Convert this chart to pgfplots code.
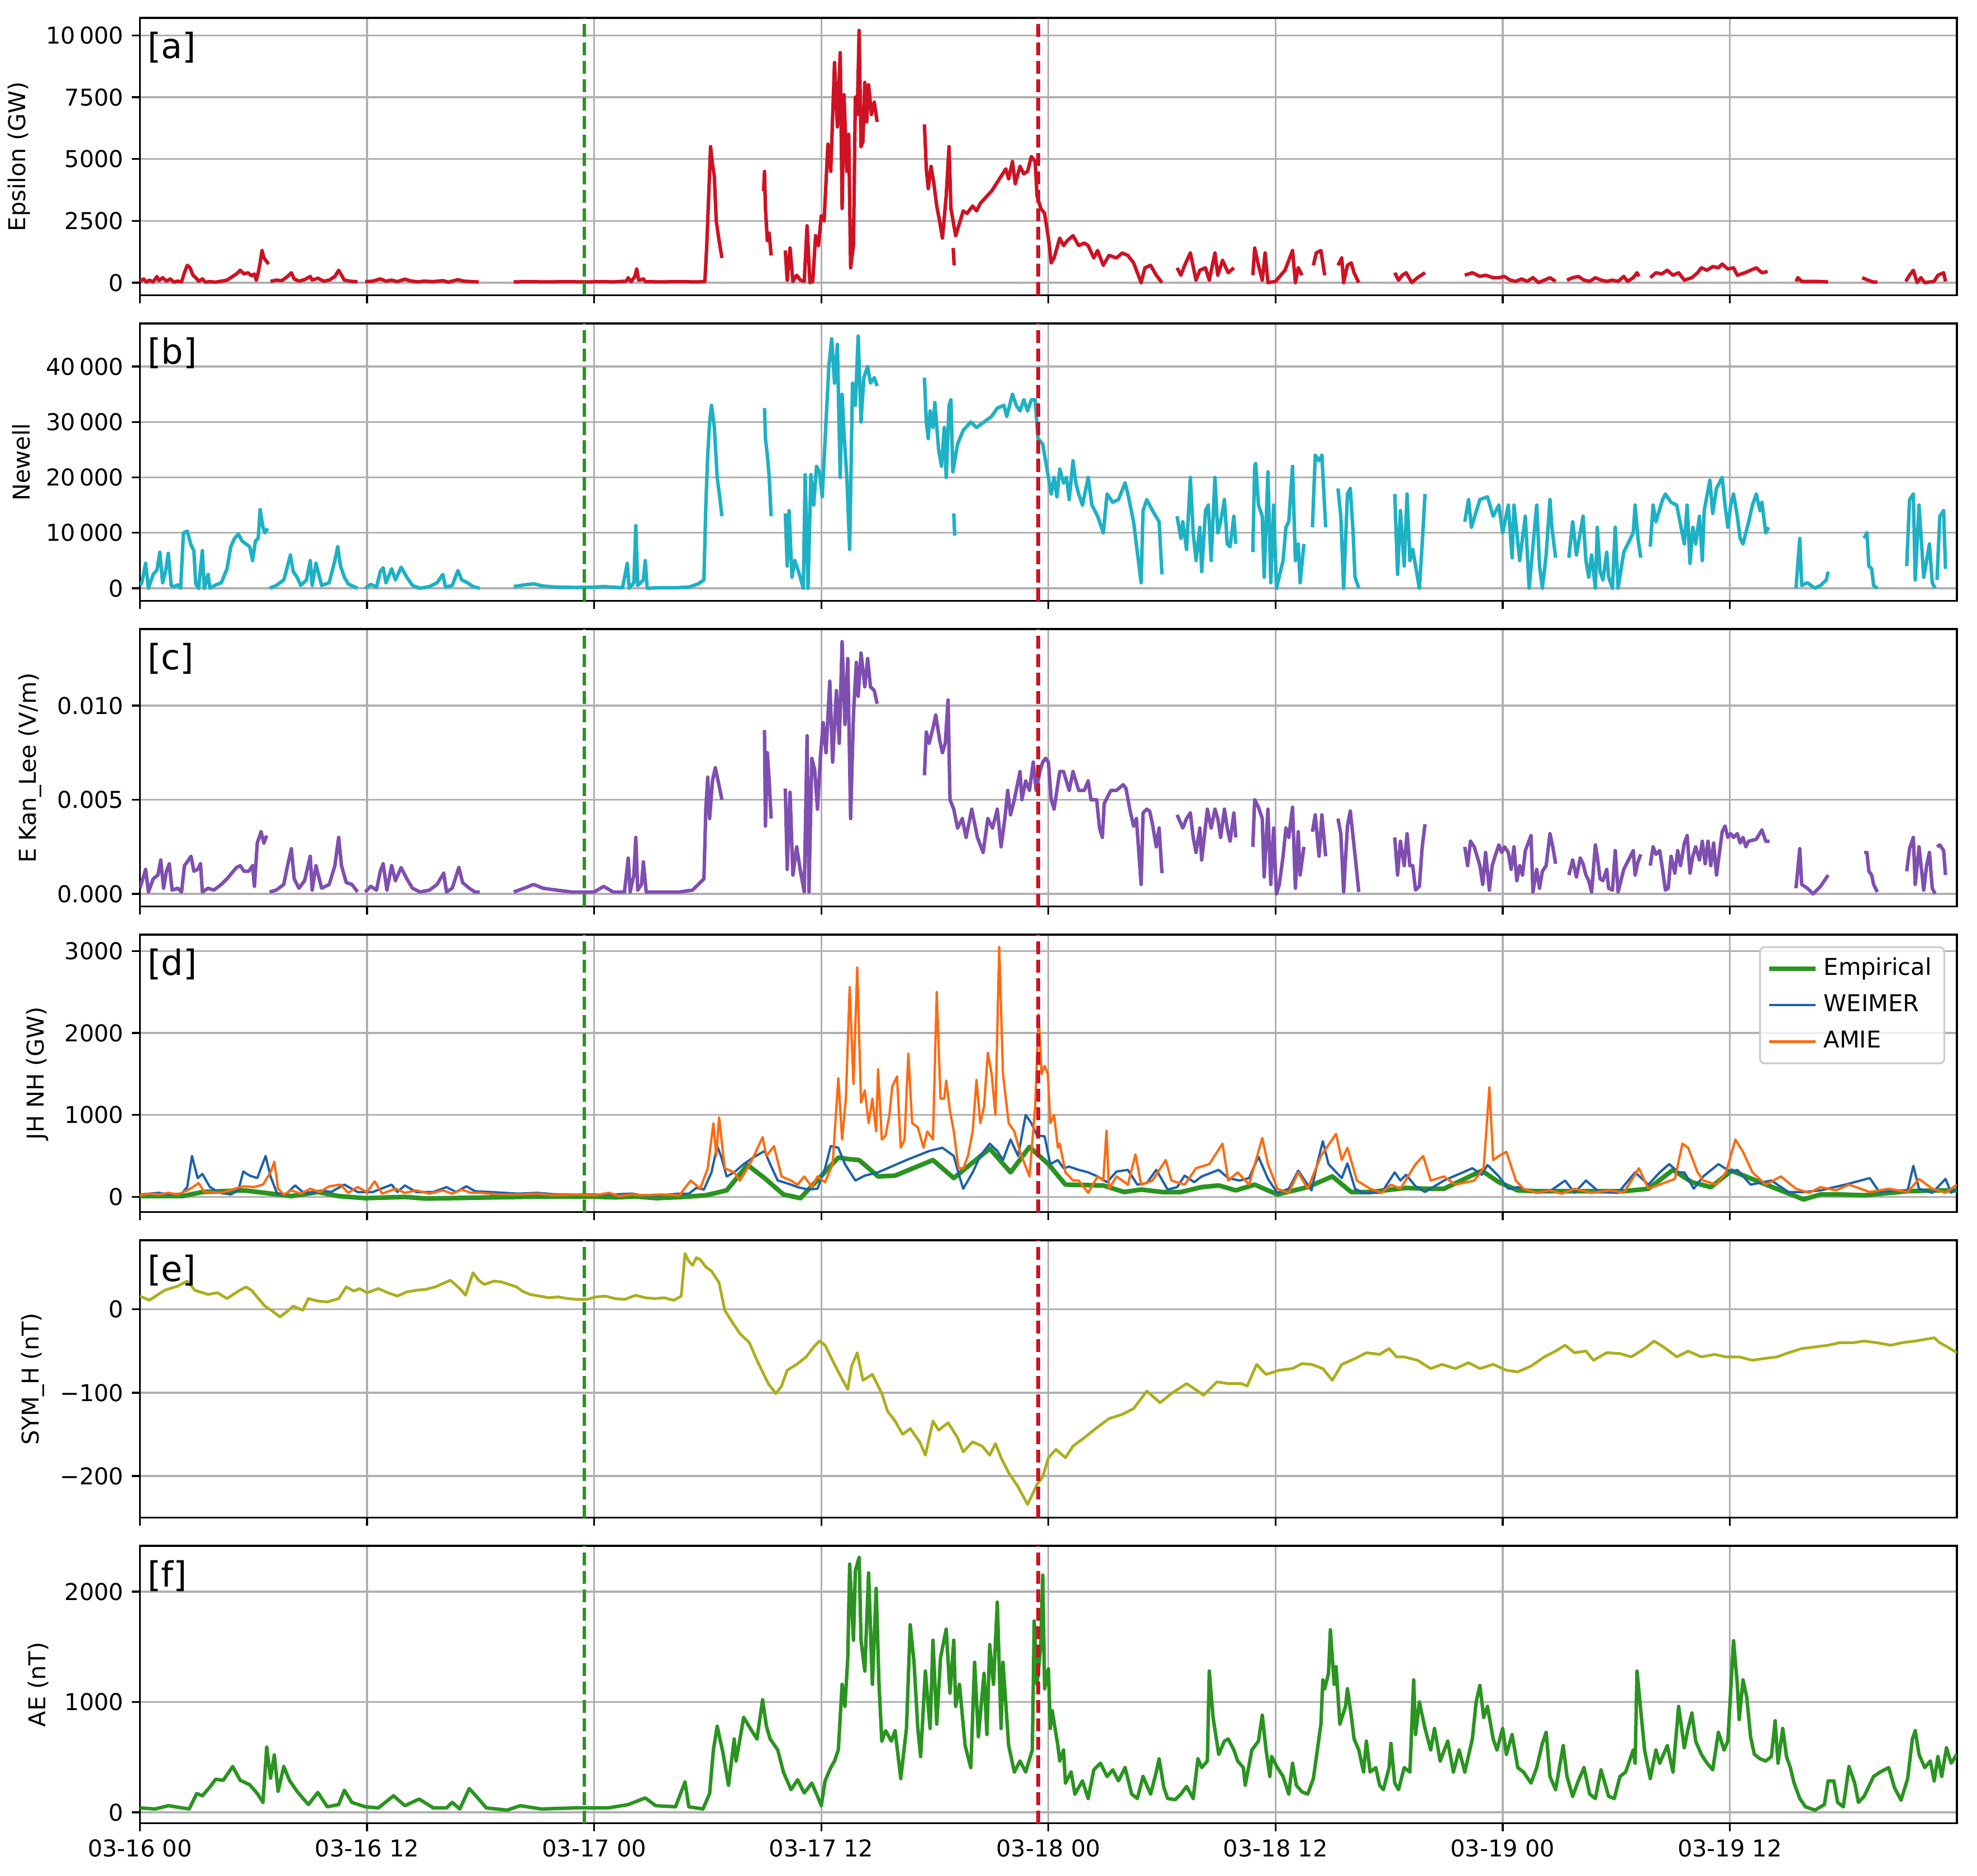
\documentclass[border=0pt]{standalone}
\usepackage{pgfplots}
\pgfplotsset{compat=1.18}
\usepackage{fontspec}
\setmainfont{DejaVu Sans}
\definecolor{cEps}{RGB}{206,18,36}
\definecolor{cNew}{RGB}{30,177,196}
\definecolor{cKan}{RGB}{127,79,176}
\definecolor{cEmp}{RGB}{42,148,32}
\definecolor{cWei}{RGB}{29,98,168}
\definecolor{cAmi}{RGB}{255,106,16}
\definecolor{cSym}{RGB}{172,174,28}
\definecolor{gridc}{RGB}{176,176,176}
\definecolor{legc}{RGB}{204,204,204}
\pgfplotsset{
  panel/.style={
    scale only axis, width=27.54cm, height=4.205cm, anchor=south west,
    xmin=0, xmax=96, xtick={0,12,24,36,48,60,72,84}, xticklabels={},
    scaled y ticks=false, scaled x ticks=false,
    grid=major, major grid style={draw=gridc, line width=0.8pt},
    axis line style={line width=0.8pt},
    every tick/.style={black, line width=0.8pt},
    tick align=outside, major tick length=3.5pt, tick pos=left,
    unbounded coords=jump,
    font=\fontsize{10}{12}\selectfont,
    ticklabel style={font=\fontsize{10}{12}\selectfont},
    label style={font=\fontsize{10}{12}\selectfont},
  },
}
\tikzset{
  panellabel/.style={anchor=north west, inner sep=0pt, font=\fontsize{15}{18}\selectfont},
  dline/.style={line width=1.5pt, dash pattern=on 5.55pt off 2.4pt},
}
\newcommand{\vlines}{%
  \draw[cEmp, dline] ({axis cs:23.47,0}|-{rel axis cs:0,0}) -- ({axis cs:23.47,0}|-{rel axis cs:0,1});
  \draw[cEps, dline] ({axis cs:47.46,0}|-{rel axis cs:0,0}) -- ({axis cs:47.46,0}|-{rel axis cs:0,1});}
\begin{document}
\begin{tikzpicture}
\useasboundingbox (0,0) rectangle (29.966cm,28.432cm);
% ---------------- (a) Epsilon
\begin{axis}[panel, at={(2.121cm,23.957cm)}, ymin=-510, ymax=10710,
  ytick={0,2500,5000,7500,10000}, yticklabels={0,2500,5000,7500,10\,000}, ylabel={Epsilon (GW)}]
\addplot[cEps, line width=1.5pt, line join=round] coordinates {
(0,50) (0.2,150) (0.35,20) (0.5,100) (0.7,30) (0.9,250) (1.0,80) (1.2,200) (1.4,60) (1.6,150) (1.8,20) (2.0,60) (2.2,30) (2.35,400) (2.5,700) (2.65,600) (2.8,300) (2.95,200) (3.1,60) (3.3,150) (3.45,20) (3.7,40) (4.0,20) (4.3,60) (4.6,100) (4.9,250) (5.1,350) (5.3,500) (5.5,350) (5.7,400) (5.9,280) (6.05,350) (6.15,100) (6.25,400) (6.35,800) (6.45,1300) (6.55,1000) (6.7,850) (6.8,750) (6.85,nan)
(6.9,50) (7.2,100) (7.5,80) (7.8,250) (8.0,400) (8.15,150) (8.4,60) (8.7,120) (9.0,250) (9.1,100) (9.4,180) (9.7,60) (10.0,100) (10.3,250) (10.5,500) (10.65,300) (10.8,100) (11.1,60) (11.5,30) (11.6,nan)
(11.9,40) (12.3,60) (12.7,150) (13.0,60) (13.3,100) (13.6,40) (14.0,140) (14.3,70) (14.7,30) (15.0,60) (15.5,40) (16.0,80) (16.3,20) (16.8,120) (17.1,60) (17.5,40) (17.9,30) (18.0,nan)
(19.75,30) (20.5,40) (21.5,30) (22.5,40) (23.5,30) (24.5,40) (25.0,30) (25.7,60) (25.8,200) (25.95,30) (26.15,250) (26.25,550) (26.35,100) (26.6,150) (26.7,40) (27.5,30) (28.5,40) (29.5,30) (29.85,50) (29.95,1500) (30.05,3500) (30.15,5500) (30.25,4800) (30.35,4300) (30.45,2500) (30.6,1700) (30.75,1000) (30.8,nan)
(32.95,3700) (33.0,4500) (33.05,3000) (33.15,1700) (33.25,2000) (33.35,1100) (33.4,nan)
(34.1,1300) (34.2,100) (34.35,1400) (34.5,50) (34.7,300) (34.9,100) (35.1,50) (35.25,2300) (35.4,0) (35.55,50) (35.7,1900) (35.85,1500) (36.0,2700) (36.15,2500) (36.35,5600) (36.5,4500) (36.7,8900) (36.85,6300) (37.0,9300) (37.1,3000) (37.2,7600) (37.35,4500) (37.45,6000) (37.55,600) (37.7,1500) (37.8,7500) (37.9,6800) (38.0,10200) (38.1,5500) (38.2,5700) (38.3,8100) (38.4,6500) (38.5,8000) (38.65,6800) (38.8,7300) (38.95,6500) (39.0,nan)
(41.45,6400) (41.55,4600) (41.65,3800) (41.8,4700) (41.95,4000) (42.1,3100) (42.25,2500) (42.4,1800) (42.6,3500) (42.75,5500) (42.85,3000) (43.1,1900) (43.3,2400) (43.5,2900) (43.7,2800) (44.0,3100) (44.2,2900) (44.4,3200) (44.75,3500) (45.0,3700) (45.25,4000) (45.5,4300) (45.75,4600) (45.9,4200) (46.1,4900) (46.25,4000) (46.5,4700) (46.7,4400) (46.9,4500) (47.1,5100) (47.3,4900) (47.4,3500) (47.6,3000) (47.8,2800) (48.0,1800) (48.15,800) (48.3,1000) (48.6,1800) (48.8,1500) (49.0,1700) (49.3,1900) (49.6,1500) (49.9,1600) (50.1,1500) (50.4,1000) (50.6,1300) (50.9,700) (51.2,1100) (51.6,1000) (51.9,1200) (52.2,1100) (52.5,800) (52.9,0) (53.1,600) (53.4,700) (53.7,300) (54.0,0) (54.05,nan)
(54.8,600) (55.0,300) (55.2,700) (55.5,1200) (55.8,100) (56.0,500) (56.3,600) (56.5,100) (56.8,1200) (56.95,300) (57.2,900) (57.5,400) (57.8,600) (57.9,nan)
(58.8,300) (58.9,1400) (59.1,700) (59.3,100) (59.45,1200) (59.6,0) (60.0,50) (60.5,500) (60.9,1300) (61.05,0) (61.2,600) (61.4,300) (61.5,nan)
(62.0,700) (62.15,1200) (62.4,1300) (62.6,300) (62.65,nan)
(63.3,700) (63.5,1000) (63.6,0) (63.8,700) (64.0,800) (64.15,400) (64.4,0) (64.45,nan)
(66.3,400) (66.5,100) (66.7,300) (66.9,400) (67.2,0) (67.5,200) (67.9,400) (67.95,nan)
(70.0,300) (70.4,400) (70.8,250) (71.1,300) (71.5,200) (71.8,200) (72.1,250) (72.4,100) (72.7,50) (73.0,150) (73.3,50) (73.6,200) (73.9,0) (74.2,100) (74.5,200) (74.8,50) (74.85,nan)
(75.4,100) (75.7,200) (76.0,250) (76.3,100) (76.6,50) (76.9,200) (77.2,100) (77.5,50) (77.8,100) (78.1,50) (78.4,250) (78.6,50) (78.9,200) (79.1,400) (79.2,250) (79.25,nan)
(79.8,200) (80.1,400) (80.4,350) (80.7,500) (81.0,300) (81.3,400) (81.6,100) (82.0,200) (82.3,400) (82.5,600) (82.8,500) (83.1,650) (83.4,600) (83.6,750) (83.9,550) (84.2,600) (84.4,300) (84.8,400) (85.1,500) (85.4,600) (85.7,400) (86.0,450) (86.1,nan)
(87.5,50) (87.6,200) (87.8,50) (88.5,50) (89.2,30) (89.25,nan)
(91.0,200) (91.3,100) (91.6,20) (91.8,30) (91.85,nan)
(93.3,50) (93.5,300) (93.7,500) (93.9,0) (94.1,200) (94.3,0) (94.8,50) (95.0,300) (95.3,400) (95.4,50) (95.45,nan)
(42.97,1400) (43.02,700)
};
\vlines
\node[panellabel] at (rel axis cs:0.004,0.95) {[a]};
\end{axis}
% ---------------- (b) Newell
\begin{axis}[panel, at={(2.121cm,19.325cm)}, ymin=-2275, ymax=47775,
  ytick={0,10000,20000,30000,40000}, yticklabels={0,10\,000,20\,000,30\,000,40\,000}, ylabel={Newell}]
\addplot[cNew, line width=1.5pt, line join=round] coordinates {
(0,500) (0.1,1000) (0.3,4500) (0.45,0) (0.7,2500) (0.9,3300) (1.05,6500) (1.2,1000) (1.35,3000) (1.5,6300) (1.65,500) (1.8,300) (2.0,600) (2.15,0) (2.3,10000) (2.5,10300) (2.7,7800) (2.85,6800) (2.95,800) (3.1,0) (3.3,6800) (3.4,0) (3.6,2500) (3.7,0) (4.0,600) (4.3,1000) (4.6,3500) (4.8,7500) (5.0,9000) (5.2,9800) (5.4,8500) (5.6,8000) (5.8,7500) (5.95,5000) (6.1,8500) (6.25,9000) (6.35,14200) (6.5,11000) (6.6,10000) (6.75,10800) (6.8,nan)
(6.85,0) (7.2,500) (7.6,1500) (7.8,4000) (7.95,6000) (8.1,3000) (8.3,2000) (8.5,500) (8.8,1500) (9.0,5000) (9.1,500) (9.3,4500) (9.6,500) (10.0,1000) (10.3,5000) (10.45,7500) (10.6,4000) (10.8,2000) (11.0,800) (11.3,300) (11.5,0) (11.55,nan)
(11.9,0) (12.2,700) (12.5,200) (12.7,3000) (12.85,3700) (13.0,1000) (13.3,3500) (13.5,1500) (13.8,3800) (14.1,2000) (14.4,500) (14.8,0) (15.3,300) (15.7,1000) (16.0,2500) (16.15,200) (16.5,500) (16.8,3200) (17.0,1500) (17.3,1000) (17.6,300) (17.95,0) (18.0,nan)
(19.75,300) (20.3,600) (20.8,800) (21.3,400) (22.0,200) (23.0,150) (24.0,200) (24.5,300) (25.0,200) (25.5,100) (25.75,4500) (25.85,0) (26.1,1000) (26.2,11300) (26.3,500) (26.6,1500) (26.7,5000) (26.8,0) (27.5,100) (28.3,100) (29.0,200) (29.5,800) (29.8,1500) (29.9,15000) (30.0,24000) (30.1,30000) (30.2,33000) (30.35,29000) (30.5,20000) (30.65,16000) (30.75,13000) (30.8,nan)
(33.0,32500) (33.05,27000) (33.15,24000) (33.25,20000) (33.3,16500) (33.35,13000) (33.4,nan)
(34.1,13500) (34.2,4000) (34.3,14000) (34.45,2000) (34.6,5000) (34.8,3000) (35.05,0) (35.15,20500) (35.3,0) (35.45,20500) (35.6,15000) (35.75,22000) (35.9,21000) (36.05,16500) (36.25,30000) (36.4,40000) (36.55,45000) (36.7,37000) (36.85,44000) (37.0,20000) (37.1,35000) (37.2,28000) (37.35,20000) (37.5,7000) (37.65,37000) (37.8,33000) (37.95,45500) (38.1,30000) (38.25,38000) (38.45,40000) (38.6,37000) (38.8,38000) (38.95,36500) (39.0,nan)
(41.45,38000) (41.55,30000) (41.65,27000) (41.75,32000) (41.9,29000) (42.0,33500) (42.2,25000) (42.35,22000) (42.5,29000) (42.6,20000) (42.75,33000) (42.85,34000) (42.95,21000) (43.2,26000) (43.5,28500) (43.9,30000) (44.2,29000) (44.6,30000) (45.0,31000) (45.3,32500) (45.65,33000) (45.8,31000) (46.1,35000) (46.3,33000) (46.5,32000) (46.7,34000) (46.9,32000) (47.1,34000) (47.3,34000) (47.45,27000) (47.7,26000) (48.0,20000) (48.15,17000) (48.3,20000) (48.45,16500) (48.6,21500) (48.8,19000) (48.95,20000) (49.1,16000) (49.3,23000) (49.45,19000) (49.6,17000) (49.8,15000) (50.1,20000) (50.3,15000) (50.6,13000) (50.9,10000) (51.1,17000) (51.4,15500) (51.7,16000) (52.05,19000) (52.2,17000) (52.5,12000) (52.9,1000) (53.0,14000) (53.2,16000) (53.5,14000) (53.85,12000) (54.0,2500) (54.05,nan)
(54.8,13000) (55.0,9000) (55.1,12000) (55.3,7000) (55.5,20000) (55.65,10000) (55.8,5000) (56.0,11000) (56.1,3000) (56.3,14000) (56.45,15000) (56.6,5000) (56.8,20000) (56.95,10000) (57.1,12000) (57.3,16000) (57.45,8000) (57.6,7500) (57.8,13000) (57.9,8000) (57.95,nan)
(58.8,6500) (58.9,22000) (58.95,22500) (59.1,15000) (59.3,13000) (59.4,2000) (59.6,21000) (59.75,1000) (59.9,15000) (60.05,0) (60.4,5000) (60.55,11000) (60.7,12000) (60.9,22000) (61.05,5000) (61.2,8000) (61.3,1000) (61.5,8000) (61.6,nan)
(61.95,11000) (62.1,24000) (62.3,23000) (62.45,24000) (62.65,11000) (62.7,nan)
(63.3,18000) (63.45,13000) (63.6,0) (63.8,17000) (63.95,18000) (64.1,10000) (64.2,2000) (64.4,0) (64.45,nan)
(66.3,17000) (66.45,2500) (66.6,14000) (66.8,4000) (66.95,17000) (67.1,5000) (67.25,7000) (67.4,4000) (67.6,0) (67.75,8000) (67.9,17000) (67.95,nan)
(70.0,12000) (70.2,16000) (70.35,11000) (70.8,16000) (71.2,16500) (71.5,13000) (71.8,15000) (72.0,10000) (72.3,15000) (72.5,5500) (72.6,15000) (72.9,5000) (73.2,13000) (73.4,0) (73.8,15000) (73.95,4000) (74.1,0) (74.3,6000) (74.5,16000) (74.6,11000) (74.8,5500) (74.85,nan)
(75.5,5500) (75.7,12000) (75.9,6000) (76.25,13000) (76.4,5000) (76.55,2000) (76.7,6000) (76.9,0) (77.0,11000) (77.15,3000) (77.3,1500) (77.5,6500) (77.6,2000) (77.8,0) (77.95,11000) (78.1,0) (78.4,6500) (78.9,10000) (79.0,15000) (79.15,9000) (79.3,5500) (79.35,nan)
(79.8,7500) (79.95,15000) (80.1,12000) (80.45,16000) (80.6,17000) (80.9,15500) (81.2,15000) (81.6,8000) (81.75,15000) (81.9,4500) (82.05,11000) (82.2,8000) (82.4,13000) (82.55,5000) (82.65,14000) (82.95,19500) (83.1,13500) (83.3,18000) (83.6,20000) (83.75,15000) (83.9,11000) (84.05,15000) (84.2,17000) (84.4,13000) (84.55,9000) (84.7,8000) (85.0,12000) (85.2,15000) (85.4,17000) (85.6,14000) (85.7,15500) (85.9,10000) (86.05,11000) (86.1,nan)
(87.5,0) (87.7,9000) (87.8,500) (88.1,1000) (88.5,0) (88.8,500) (89.1,1500) (89.2,3000) (89.25,nan)
(91.1,9000) (91.25,10000) (91.35,4000) (91.5,3500) (91.6,500) (91.8,0) (91.85,nan)
(93.35,4000) (93.5,16000) (93.7,17000) (93.8,1500) (94.0,15000) (94.25,2000) (94.4,5000) (94.55,8000) (94.7,1000) (94.85,0) (94.9,nan) (94.95,1500) (95.1,13000) (95.3,14000) (95.4,3500) (95.45,nan)
(43.0,13500) (43.05,9500)
};
\vlines
\node[panellabel] at (rel axis cs:0.004,0.95) {[b]};
\end{axis}
% ---------------- (c) E Kan_Lee
\begin{axis}[panel, at={(2.121cm,14.693cm)}, ymin=-0.00067, ymax=0.01407,
  ytick={0,0.005,0.01}, yticklabels={0.000,0.005,0.010}, ylabel={E Kan\_Lee (V/m)}]
\addplot[cKan, line width=1.5pt, line join=round] coordinates {
(0,0.0003) (0.15,0.0008) (0.3,0.0013) (0.45,0.0001) (0.7,0.0008) (0.95,0.0010) (1.1,0.0018) (1.25,0.0003) (1.4,0.0012) (1.55,0.0016) (1.7,0.0002) (2.0,0.0003) (2.2,0.0001) (2.35,0.0015) (2.5,0.0017) (2.7,0.0020) (2.85,0.0012) (3.05,0.0013) (3.2,0.0016) (3.3,0.0001) (3.6,0.0003) (3.9,0.0002) (4.3,0.0005) (4.6,0.0008) (4.85,0.0011) (5.1,0.0014) (5.3,0.0015) (5.5,0.0012) (5.75,0.0012) (5.95,0.0015) (6.05,0.0004) (6.2,0.0027) (6.4,0.0033) (6.55,0.0027) (6.7,0.0031) (6.8,nan)
(6.85,0.0001) (7.2,0.0002) (7.6,0.0005) (7.8,0.0015) (8.0,0.0024) (8.15,0.0008) (8.4,0.0003) (8.7,0.0007) (9.0,0.0020) (9.1,0.0002) (9.3,0.0015) (9.6,0.0003) (10.0,0.0005) (10.3,0.0015) (10.5,0.0030) (10.65,0.0015) (10.9,0.0006) (11.2,0.0005) (11.5,0.0001) (11.55,nan)
(11.9,0.0001) (12.2,0.0004) (12.5,0.0002) (12.7,0.0012) (12.85,0.0016) (13.05,0.0002) (13.3,0.0015) (13.5,0.0007) (13.8,0.0014) (14.1,0.0008) (14.4,0.0003) (14.8,0.0001) (15.3,0.0002) (15.7,0.0005) (16.05,0.0011) (16.2,0.0001) (16.5,0.0003) (16.85,0.0014) (17.05,0.0006) (17.4,0.0003) (17.7,0.0001) (17.95,0.0001) (18.0,nan)
(19.75,0.0001) (20.3,0.0003) (20.8,0.0005) (21.3,0.0003) (22.0,0.0002) (22.8,0.0001) (23.5,0.0001) (24.0,0.0001) (24.5,0.0004) (25.0,0.0001) (25.6,0.0001) (25.8,0.0019) (25.9,0.0001) (26.1,0.0010) (26.2,0.0030) (26.3,0.0002) (26.5,0.0005) (26.6,0.0017) (26.75,0.0001) (27.5,0.0001) (28.5,0.0001) (29.2,0.0002) (29.5,0.0005) (29.8,0.0008) (29.9,0.0045) (30.0,0.0062) (30.1,0.0040) (30.25,0.0060) (30.4,0.0067) (30.55,0.0060) (30.75,0.0050) (30.8,nan)
(33.0,0.0087) (33.05,0.0036) (33.15,0.0075) (33.25,0.0060) (33.35,0.0040) (33.4,nan)
(34.1,0.0056) (34.2,0.0013) (34.35,0.0054) (34.5,0.0010) (34.7,0.0025) (34.9,0.0012) (35.1,0.0001) (35.25,0.0084) (35.35,0.0001) (35.5,0.0072) (35.65,0.0066) (35.8,0.0045) (35.95,0.0072) (36.1,0.0091) (36.25,0.0075) (36.45,0.0113) (36.6,0.0070) (36.8,0.0108) (36.95,0.0080) (37.1,0.0134) (37.25,0.0090) (37.4,0.0125) (37.55,0.0040) (37.7,0.0095) (37.85,0.0123) (37.95,0.0105) (38.1,0.0128) (38.3,0.0110) (38.45,0.0125) (38.6,0.0110) (38.8,0.0108) (38.95,0.0101) (39.0,nan)
(41.45,0.0063) (41.55,0.0086) (41.7,0.0080) (41.9,0.0088) (42.05,0.0095) (42.25,0.0082) (42.4,0.0075) (42.55,0.0080) (42.7,0.0103) (42.8,0.0050) (43.0,0.0045) (43.2,0.0035) (43.45,0.0040) (43.65,0.0030) (43.95,0.0045) (44.25,0.0030) (44.55,0.0022) (44.8,0.0040) (45.05,0.0035) (45.3,0.0045) (45.5,0.0025) (45.7,0.0040) (45.85,0.0055) (46.0,0.0042) (46.2,0.0050) (46.5,0.0065) (46.6,0.0050) (46.8,0.0060) (47.0,0.0055) (47.2,0.0070) (47.35,0.0055) (47.55,0.0065) (47.7,0.0070) (47.85,0.0072) (48.0,0.0070) (48.15,0.0050) (48.3,0.0045) (48.45,0.0055) (48.6,0.0065) (48.8,0.0065) (48.95,0.0060) (49.1,0.0055) (49.3,0.0065) (49.45,0.0060) (49.6,0.0055) (49.9,0.0055) (50.1,0.0060) (50.25,0.0050) (50.55,0.0050) (50.7,0.0035) (50.85,0.0030) (50.95,0.0048) (51.3,0.0055) (51.6,0.0055) (51.95,0.0058) (52.1,0.0056) (52.3,0.0045) (52.5,0.0036) (52.65,0.0040) (52.9,0.0005) (53.0,0.0043) (53.2,0.0045) (53.35,0.0044) (53.5,0.0037) (53.7,0.0025) (53.85,0.0035) (54.0,0.0011) (54.05,nan)
(54.8,0.0042) (55.1,0.0035) (55.3,0.0040) (55.5,0.0043) (55.65,0.0030) (55.8,0.0022) (56.0,0.0035) (56.1,0.0018) (56.4,0.0045) (56.6,0.0035) (56.8,0.0045) (56.95,0.0040) (57.1,0.0030) (57.3,0.0045) (57.45,0.0035) (57.6,0.0028) (57.8,0.0043) (57.9,0.0030) (57.95,nan)
(58.8,0.0025) (58.9,0.0050) (59.1,0.0046) (59.3,0.0040) (59.4,0.0009) (59.6,0.0045) (59.75,0.0005) (59.9,0.0035) (60.05,0.0000) (60.2,0.0005) (60.4,0.0020) (60.55,0.0035) (60.7,0.0030) (60.9,0.0046) (61.05,0.0003) (61.2,0.0033) (61.3,0.0010) (61.5,0.0025) (61.6,nan)
(61.95,0.0033) (62.1,0.0042) (62.3,0.0020) (62.45,0.0042) (62.65,0.0020) (62.7,nan)
(63.3,0.0040) (63.45,0.0032) (63.6,0.0001) (63.8,0.0036) (63.95,0.0044) (64.1,0.0030) (64.25,0.0016) (64.4,0.0001) (64.45,nan)
(66.3,0.0030) (66.45,0.0010) (66.6,0.0028) (66.8,0.0015) (66.95,0.0032) (67.1,0.0015) (67.25,0.0015) (67.4,0.0002) (67.6,0.0004) (67.75,0.0025) (67.9,0.0037) (67.95,nan)
(70.0,0.0025) (70.15,0.0015) (70.3,0.0028) (70.5,0.0025) (70.8,0.0015) (70.95,0.0005) (71.1,0.0022) (71.3,0.0002) (71.45,0.0015) (71.6,0.0020) (71.8,0.0026) (71.95,0.0022) (72.1,0.0025) (72.3,0.0022) (72.45,0.0013) (72.6,0.0025) (72.75,0.0007) (72.9,0.0015) (73.05,0.0010) (73.2,0.0023) (73.5,0.0031) (73.6,0.0001) (73.8,0.0013) (73.95,0.0003) (74.1,0.0012) (74.3,0.0015) (74.5,0.0032) (74.65,0.0025) (74.8,0.0016) (74.85,nan)
(75.5,0.0010) (75.7,0.0018) (75.9,0.0009) (76.1,0.0019) (76.25,0.0016) (76.4,0.0010) (76.55,0.0007) (76.7,0.0001) (76.9,0.0026) (77.0,0.0020) (77.15,0.0008) (77.3,0.0007) (77.5,0.0013) (77.6,0.0003) (77.8,0.0002) (77.95,0.0023) (78.1,0.0001) (78.4,0.0013) (78.9,0.0023) (79.0,0.0010) (79.15,0.0017) (79.3,0.0021) (79.35,nan)
(79.8,0.0015) (79.95,0.0025) (80.1,0.0021) (80.3,0.0023) (80.45,0.0013) (80.6,0.0002) (80.75,0.0003) (80.9,0.0020) (81.1,0.0011) (81.25,0.0023) (81.4,0.0015) (81.6,0.0027) (81.75,0.0031) (81.9,0.0011) (82.05,0.0020) (82.2,0.0025) (82.4,0.0018) (82.55,0.0028) (82.7,0.0016) (82.85,0.0028) (83.0,0.0015) (83.15,0.0027) (83.3,0.0010) (83.6,0.0033) (83.75,0.0036) (83.9,0.0030) (84.05,0.0032) (84.2,0.0030) (84.4,0.0032) (84.55,0.0027) (84.7,0.0030) (84.85,0.0025) (85.0,0.0028) (85.4,0.0029) (85.7,0.0034) (85.9,0.0028) (86.1,0.0028) (86.15,nan)
(87.5,0.0003) (87.7,0.0024) (87.8,0.0005) (88.1,0.0003) (88.4,0.0000) (88.8,0.0004) (89.2,0.0010) (89.25,nan)
(91.1,0.0022) (91.25,0.0022) (91.35,0.0012) (91.5,0.0010) (91.6,0.0005) (91.8,0.0001) (91.85,nan)
(93.35,0.0012) (93.5,0.0024) (93.7,0.0030) (93.8,0.0005) (94.0,0.0025) (94.25,0.0002) (94.4,0.0015) (94.55,0.0022) (94.7,0.0003) (94.85,0.0000) (94.9,nan) (94.95,0.0025) (95.1,0.0026) (95.3,0.0023) (95.4,0.0010)
};
\vlines
\node[panellabel] at (rel axis cs:0.004,0.95) {[c]};
\end{axis}
% ---------------- (d) JH NH
\begin{axis}[panel, at={(2.121cm,10.061cm)}, ymin=-185, ymax=3200,
  ytick={0,1000,2000,3000}, yticklabels={0,1000,2000,3000}, ylabel={JH NH (GW)},
  legend style={at={(1,1)}, anchor=north east, xshift=-5pt, yshift=-5pt, draw=legc, line width=0.8pt,
    rounded corners=2pt, fill=white, fill opacity=0.8, text opacity=1, draw opacity=1,
    font=\fontsize{10}{12}\selectfont, inner xsep=3pt, inner ysep=2pt, row sep=1pt,
    nodes={inner sep=2.5pt, text height=7.5pt, text depth=2.2pt}},
  legend cell align=left,
  legend image code/.code={\draw[#1] (0pt,0pt) -- (20pt,0pt);}]
\addplot[cEmp, line width=2pt, line join=round] coordinates {
(0,10) (2.25,10) (3.3,60) (5.5,80) (8,10) (9.4,60) (10.5,10) (11.9,-15) (14,0) (15.1,-20) (17.6,-10) (21.2,5) (23.7,5) (25.1,-5) (26.2,5) (27.3,-15) (28.7,0) (29.9,20) (31,80) (32.1,390) (33,230) (34,30) (34.9,-15) (36.9,480) (37.5,460) (38,450) (39,250) (39.9,260) (41.9,450) (43,230) (44.9,590) (46,300) (47,610) (48,400) (48.9,150) (50.9,140) (52,60) (52.9,90) (54,60) (55,60) (56.1,120) (57,140) (57.9,80) (58.9,150) (60.1,30) (61.7,120) (63,250) (64,60) (65,60) (66.9,110) (67.9,100) (68.9,100) (70.9,320) (71.8,180) (72.8,80) (73.8,70) (75.1,70) (78.4,70) (79.7,100) (81,330) (82,180) (83,120) (84.1,320) (85.6,180) (87.9,-30) (88.8,30) (89.8,30) (91.1,20) (93.4,70) (95.1,80) (96,80)
};
\addlegendentry{Empirical}
\addplot[cWei, line width=1pt, line join=round] coordinates {
(0,30) (0.5,40) (1,50) (1.5,30) (2.2,40) (2.5,120) (2.75,500) (3.05,230) (3.3,280) (3.7,120) (4.2,50) (4.8,30) (5.2,80) (5.46,310) (5.8,260) (6.2,230) (6.64,500) (6.9,250) (7.25,40) (7.7,30) (8.2,140) (8.6,60) (9.0,40) (9.6,80) (10.1,60) (10.8,150) (11.5,60) (12.3,60) (13.3,150) (13.6,60) (14.0,140) (14.6,60) (15.5,60) (16.2,120) (16.7,60) (17.25,130) (17.7,70) (18.5,60) (20,40) (21,50) (22,30) (23,30) (24.5,30) (25,30) (26,40) (26.5,20) (27.5,20) (28.5,40) (29.0,40) (29.4,110) (29.8,90) (30.2,300) (30.5,620) (30.7,500) (31.0,250) (31.4,300) (31.9,400) (32.4,480) (33.0,560) (33.3,400) (33.7,200) (34.0,180) (34.4,150) (34.75,120) (35.3,90) (35.8,100) (36.2,350) (36.5,620) (36.9,600) (37.25,400) (37.8,200) (38.3,260) (39,300) (40.5,450) (41.7,560) (42.4,600) (43,500) (43.3,250) (43.5,100) (44,300) (44.4,500) (44.9,650) (45.3,560) (45.6,450) (46,700) (46.4,500) (46.8,1000) (47.1,900) (47.4,750) (47.8,740) (48.1,400) (48.5,450) (48.8,350) (49.1,370) (49.6,330) (50.1,300) (50.6,250) (51.1,180) (51.6,310) (52.2,330) (52.7,150) (53.2,170) (53.7,330) (54.3,90) (54.8,120) (55.2,260) (55.7,180) (56.1,250) (57,330) (57.5,230) (58.1,200) (58.6,230) (59.1,490) (59.6,220) (60.1,50) (60.7,100) (61.2,320) (61.9,80) (62.2,400) (62.5,680) (62.8,400) (63.5,230) (63.8,410) (64.2,100) (64.6,50) (65.6,50) (66.3,300) (66.6,200) (66.9,270) (67.4,130) (67.9,60) (68.9,200) (69.9,300) (70.4,350) (70.9,270) (71.2,390) (71.8,250) (72.3,100) (72.8,120) (73.8,50) (74.5,70) (75.3,200) (75.8,50) (76.4,200) (77.1,60) (78.1,50) (79,300) (79.7,150) (80.3,300) (80.8,400) (81.3,300) (81.6,300) (82.1,100) (82.6,250) (83.4,400) (84.1,300) (84.4,330) (85.1,150) (86.2,200) (87.1,60) (87.9,60) (88.8,80) (90.1,150) (91.4,230) (91.9,60) (92.8,80) (93.4,80) (93.7,380) (94,100) (94.7,50) (95.4,220) (95.7,50) (96,100)
};
\addlegendentry{WEIMER}
\addplot[cAmi, line width=1pt, line join=round] coordinates {
(0,20) (0.5,40) (1,30) (1.5,50) (2,30) (2.5,80) (2.8,120) (3.1,170) (3.4,60) (3.8,60) (4.3,50) (5.0,100) (5.5,130) (6.0,120) (6.5,150) (6.9,300) (7.1,430) (7.3,100) (7.6,30) (8,80) (8.5,40) (9,100) (9.5,60) (10,130) (10.6,150) (11,50) (11.5,120) (12,60) (12.4,190) (12.8,40) (13.5,100) (14,50) (14.6,80) (15.3,40) (16,80) (16.5,40) (17,90) (17.5,50) (18,50) (19,30) (20,30) (21,40) (22,20) (23,30) (24,20) (24.8,50) (25.3,10) (26,30) (26.5,20) (27.5,30) (28.5,20) (29.1,200) (29.6,100) (30.0,350) (30.3,900) (30.45,500) (30.6,970) (30.9,350) (31.4,300) (31.7,200) (32.1,350) (32.4,480) (32.9,730) (33.1,500) (33.5,620) (33.9,250) (34.4,200) (34.75,150) (35.1,250) (35.5,120) (35.8,250) (36.2,180) (36.6,400) (36.9,1450) (37.1,700) (37.3,1200) (37.5,2560) (37.7,1380) (37.9,2800) (38.1,1150) (38.3,1300) (38.5,900) (38.7,1200) (38.9,800) (39.0,1560) (39.2,700) (39.4,750) (39.6,1000) (39.75,1350) (40.0,1470) (40.2,600) (40.4,700) (40.6,1750) (40.8,900) (41.1,850) (41.4,600) (41.6,800) (41.9,700) (42.1,2500) (42.3,1200) (42.5,1200) (42.6,1420) (42.8,1050) (43.0,800) (43.25,350) (43.5,350) (43.75,500) (44.0,800) (44.2,1430) (44.4,900) (44.6,1100) (44.8,1760) (45.0,1500) (45.2,1000) (45.4,3050) (45.6,1500) (45.75,1200) (45.9,900) (46.2,800) (46.5,550) (46.75,400) (47.0,250) (47.3,1100) (47.48,2230) (47.64,1500) (47.8,1600) (47.97,1500) (48.1,900) (48.3,1000) (48.5,600) (48.6,650) (48.9,300) (49.3,200) (49.6,200) (50.1,50) (50.6,250) (50.9,200) (51.07,810) (51.2,100) (51.6,250) (52.2,150) (52.6,520) (52.9,150) (53.5,200) (54.2,450) (54.5,200) (55.2,150) (55.8,350) (56.5,400) (57.2,650) (57.5,200) (58,300) (58.6,150) (59.3,720) (59.6,400) (60.1,100) (60.7,50) (61.2,300) (61.7,100) (62.4,500) (62.7,600) (63.2,770) (63.5,450) (63.8,600) (64.3,200) (65,100) (65.6,50) (66.1,150) (66.6,100) (67.4,400) (67.8,500) (68.2,200) (68.9,250) (69.5,150) (70.5,200) (71,350) (71.3,1340) (71.5,450) (71.8,500) (72.2,550) (72.7,200) (73.1,100) (73.8,50) (74.5,80) (75.1,40) (75.8,100) (76.7,50) (77.7,80) (78.4,50) (79.2,350) (79.7,100) (80.3,150) (81.1,220) (81.5,650) (81.8,600) (82.3,300) (82.6,200) (83.3,150) (83.8,300) (84.3,700) (84.7,550) (85.2,300) (85.9,150) (86.7,250) (87.5,100) (88.2,50) (88.8,120) (89.6,80) (90.3,150) (91.4,60) (92.4,100) (93.4,60) (94,220) (94.7,100) (95.4,50) (96,150)
};
\addlegendentry{AMIE}
\vlines
\node[panellabel] at (rel axis cs:0.004,0.95) {[d]};
\end{axis}
% ---------------- (e) SYM_H
\begin{axis}[panel, at={(2.121cm,5.429cm)}, ymin=-250, ymax=83,
  ytick={-200,-100,0}, yticklabels={−200,−100,0}, ylabel={SYM\_H (nT)}]
\addplot[cSym, line width=1.2pt, line join=round] coordinates {
(0,16) (0.5,11) (1.3,23) (2.0,28) (2.5,34) (2.9,23) (3.6,18) (4.1,20) (4.6,13) (5.2,22) (5.6,27) (5.9,23) (6.3,12) (6.6,4) (7.0,-2) (7.4,-9) (7.8,-2) (8.1,4) (8.6,-1) (8.9,13) (9.4,10) (9.9,9) (10.5,13) (10.9,27) (11.3,22) (11.6,25) (12,20) (12.6,25) (13.1,20) (13.6,16) (14.1,21) (14.6,23) (15.1,24) (15.6,27) (16.0,31) (16.4,35) (16.9,25) (17.2,17) (17.6,44) (17.9,35) (18.2,30) (18.7,34) (19.1,33) (19.5,30) (19.9,27) (20.2,22) (20.6,18) (21.1,16) (21.6,14) (22.1,15) (22.6,13) (23.1,12) (23.6,12) (24.1,15) (24.6,16) (25.1,13) (25.6,12) (26.2,17) (26.7,14) (27.2,13) (27.7,14) (28.2,11) (28.6,16) (28.8,67) (29.0,58) (29.2,53) (29.4,62) (29.6,60) (29.9,51) (30.2,46) (30.6,32) (30.9,-1) (31.2,-12) (31.7,-29) (32.2,-40) (32.6,-61) (32.9,-75) (33.2,-89) (33.6,-101) (33.9,-92) (34.2,-73) (34.7,-66) (35.2,-57) (35.6,-45) (35.9,-38) (36.2,-43) (36.5,-57) (36.9,-75) (37.4,-96) (37.6,-68) (37.9,-52) (38.2,-85) (38.7,-78) (39.2,-101) (39.5,-122) (39.9,-134) (40.3,-150) (40.7,-143) (41.2,-159) (41.5,-175) (41.9,-134) (42.2,-145) (42.7,-136) (43.2,-154) (43.5,-171) (44.0,-159) (44.5,-164) (44.9,-175) (45.2,-161) (45.5,-178) (45.9,-196) (46.4,-213) (46.9,-234) (47.2,-220) (47.4,-210) (47.7,-201) (48.0,-178) (48.4,-168) (48.9,-178) (49.3,-164) (49.9,-154) (50.5,-143) (51.2,-131) (51.9,-126) (52.5,-119) (53.2,-98) (53.9,-112) (54.5,-101) (55.3,-89) (55.9,-98) (56.2,-103) (56.9,-87) (57.5,-89) (58.2,-89) (58.5,-92) (59.0,-66) (59.5,-78) (60.2,-73) (60.9,-71) (61.4,-65) (61.9,-66) (62.5,-71) (63.0,-85) (63.5,-66) (64.2,-59) (64.8,-52) (65.5,-54) (66.0,-47) (66.4,-57) (66.8,-57) (67.5,-61) (68.2,-71) (68.8,-66) (69.5,-71) (70.2,-64) (70.8,-71) (71.5,-66) (72.2,-73) (72.8,-75) (73.5,-68) (74.2,-57) (74.8,-50) (75.3,-43) (75.8,-52) (76.4,-50) (76.8,-61) (77.5,-52) (78.2,-53) (78.8,-57) (79.5,-47) (80.0,-38) (80.5,-45) (81.2,-57) (81.8,-50) (82.5,-57) (83.2,-54) (83.8,-57) (84.5,-57) (85.2,-61) (85.8,-59) (86.5,-57) (87.1,-52) (87.8,-47) (88.5,-45) (89.2,-43) (89.8,-40) (90.5,-40) (91.1,-38) (91.8,-40) (92.5,-43) (93.1,-40) (93.8,-38) (94.3,-36) (94.8,-34) (95.1,-40) (95.5,-45) (96,-52)
};
\vlines
\node[panellabel] at (rel axis cs:0.004,0.95) {[e]};
\end{axis}
% ---------------- (f) AE
\begin{axis}[panel, at={(2.121cm,0.797cm)}, ymin=-100, ymax=2415,
  ytick={0,1000,2000}, yticklabels={0,1000,2000}, ylabel={AE (nT)},
  xticklabels={03-16 00,03-16 12,03-17 00,03-17 12,03-18 00,03-18 12,03-19 00,03-19 12}]
\addplot[cEmp, line width=1.5pt, line join=round] coordinates {
(0,40) (0.8,30) (1.5,60) (2.6,30) (3.0,170) (3.3,150) (3.7,230) (4.0,300) (4.4,290) (4.9,415) (5.3,290) (5.8,250) (6.2,170) (6.5,90) (6.7,590) (6.9,310) (7.1,520) (7.3,190) (7.6,415) (7.9,290) (8.3,190) (8.9,70) (9.4,180) (9.9,50) (10.5,70) (10.8,200) (11.2,90) (11.9,50) (12.6,40) (13.4,150) (14.0,60) (14.75,120) (15.5,40) (16.2,40) (16.5,90) (16.9,30) (17.4,215) (17.8,140) (18.3,40) (19.4,20) (20.1,60) (21.2,30) (23.0,40) (24.75,40) (25.8,70) (26.7,130) (27.25,60) (28.3,50) (28.8,275) (29.0,50) (29.75,30) (30.1,170) (30.3,565) (30.5,780) (30.8,545) (31.1,245) (31.4,665) (31.5,465) (31.9,860) (32.25,760) (32.6,665) (32.9,1020) (33.1,780) (33.3,665) (33.7,565) (34.0,365) (34.4,205) (34.75,295) (35.1,175) (35.5,265) (35.8,145) (36.0,60) (36.2,285) (36.5,405) (36.7,465) (36.9,565) (37.1,1160) (37.25,960) (37.4,1400) (37.5,2250) (37.7,1560) (37.8,2190) (38.0,2310) (38.1,1560) (38.3,1280) (38.5,2170) (38.7,1160) (38.9,2030) (39.05,1160) (39.2,645) (39.4,740) (39.7,645) (39.9,740) (40.2,305) (40.5,760) (40.7,1700) (40.9,1360) (41.1,760) (41.25,505) (41.5,1280) (41.75,760) (41.9,1560) (42.1,800) (42.3,1400) (42.6,1660) (42.8,1080) (43.0,1560) (43.1,960) (43.3,1160) (43.6,605) (43.9,405) (44.1,1360) (44.3,685) (44.6,1260) (44.75,705) (44.9,1520) (45.1,1160) (45.3,1905) (45.5,760) (45.6,1360) (45.9,605) (46.2,365) (46.5,465) (46.8,365) (47.15,565) (47.25,1735) (47.4,1160) (47.6,1520) (47.7,2150) (47.8,1120) (48.0,1300) (48.1,760) (48.2,920) (48.5,605) (48.6,465) (48.8,565) (48.9,265) (49.2,365) (49.4,165) (49.8,285) (50.1,125) (50.4,385) (50.75,445) (51.1,325) (51.4,385) (51.7,285) (52.05,405) (52.4,165) (52.7,125) (53.0,325) (53.4,165) (53.7,365) (53.85,485) (54.1,225) (54.3,125) (54.7,115) (55.0,165) (55.3,235) (55.65,125) (55.9,485) (56.1,405) (56.4,465) (56.5,1280) (56.7,860) (57.0,525) (57.3,645) (57.5,665) (57.8,565) (58.0,465) (58.3,405) (58.4,245) (58.75,565) (59.1,645) (59.3,880) (59.5,565) (59.7,325) (59.8,505) (60.1,405) (60.4,325) (60.7,165) (60.9,445) (61.1,245) (61.4,185) (61.7,165) (62.0,305) (62.4,800) (62.5,1200) (62.6,1120) (62.8,1260) (62.9,1655) (63.1,1160) (63.2,1320) (63.4,800) (63.7,960) (63.8,1120) (64.0,880) (64.15,665) (64.4,565) (64.65,365) (64.8,645) (65.0,365) (65.3,405) (65.5,245) (65.7,205) (66.0,405) (66.1,625) (66.3,265) (66.5,205) (66.8,405) (67.1,365) (67.3,1200) (67.4,705) (67.6,1000) (67.9,760) (68.2,565) (68.4,760) (68.7,465) (69.1,645) (69.4,365) (69.7,565) (70.0,365) (70.4,665) (70.6,1000) (70.8,1150) (71.0,860) (71.2,960) (71.5,665) (71.7,565) (72.0,760) (72.2,525) (72.5,705) (72.8,405) (73.1,365) (73.5,265) (73.8,405) (74.1,625) (74.3,725) (74.5,325) (74.8,205) (75.2,605) (75.4,325) (75.7,145) (76.0,285) (76.3,405) (76.6,165) (76.9,125) (77.2,385) (77.6,145) (77.9,125) (78.2,325) (78.5,365) (78.9,565) (79.0,445) (79.1,1280) (79.3,920) (79.5,565) (79.8,305) (80.1,565) (80.3,445) (80.7,605) (81.0,365) (81.3,960) (81.6,585) (81.8,760) (82.0,900) (82.2,645) (82.5,525) (82.8,445) (83.1,385) (83.4,725) (83.7,565) (83.9,645) (84.2,1555) (84.4,1160) (84.5,840) (84.7,1200) (84.9,1040) (85.1,685) (85.3,525) (85.6,485) (85.9,465) (86.2,505) (86.4,830) (86.55,445) (86.8,760) (87.0,505) (87.2,405) (87.4,265) (87.7,125) (88.0,50) (88.5,20) (89.0,70) (89.2,285) (89.5,285) (89.7,90) (90.0,50) (90.3,415) (90.6,265) (90.8,90) (91.1,145) (91.6,325) (91.95,365) (92.4,405) (92.7,225) (93.05,110) (93.4,305) (93.65,665) (93.8,740) (94.0,525) (94.3,405) (94.6,465) (94.8,285) (95.0,505) (95.2,325) (95.45,585) (95.7,445) (96,525)
};
\vlines
\node[panellabel] at (rel axis cs:0.004,0.95) {[f]};
\end{axis}
\end{tikzpicture}
\end{document}
